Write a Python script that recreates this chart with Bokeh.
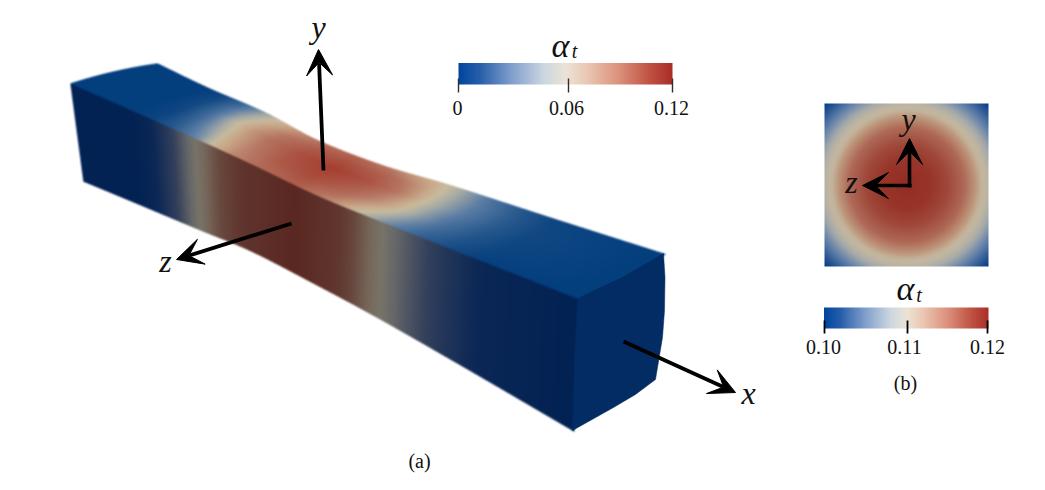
import numpy as np
from bokeh.plotting import figure
from bokeh.models import Range1d, Arrow, VeeHead
from bokeh.core.properties import value
from bokeh.embed import file_html
from bokeh.resources import INLINE

# colour bar scale of alpha_t (normalised position, r, g, b)
cmap_pos = [0, .1, .25, .4, .5, .6, .75, .9, 1]
cmap_r = [0, 40, 130, 205, 235, 235, 220, 190, 170]
cmap_g = [70, 95, 160, 215, 228, 200, 145, 80, 45]
cmap_b = [160, 170, 205, 225, 215, 180, 125, 65, 40]

# the same scale as it looks on the lit surfaces
surf_pos = [0, .25, .4, .5, .6, .75, 1]
top_r = [3, 90, 165, 200, 200, 182, 165]
top_g = [62, 125, 170, 187, 165, 118, 62]
top_b = [125, 165, 165, 158, 135, 98, 48]
side_r = [2, 55, 100, 120, 118, 104, 90]
side_g = [34, 66, 102, 116, 102, 72, 40]
side_b = [84, 92, 104, 104, 90, 62, 34]
sect_r = [5, 100, 165, 195, 192, 178, 148]
sect_g = [60, 130, 170, 183, 160, 113, 45]
sect_b = [135, 170, 170, 160, 132, 93, 35]

# beam edges at 8 stations along its length
front_x = [70, 127, 193, 250, 317, 383, 480, 577]
front_y = [83, 108, 137, 163, 195, 222, 260, 298]
rear_x = [157, 207, 265, 318, 383, 451, 556, 663]
rear_y = [63, 87, 112, 140, 165, 185, 219, 253]
bottom_x = [83, 136, 198, 251, 315, 380, 476, 572]
bottom_y = [181, 203, 229, 251, 284, 319, 374, 430]
top_bulge = [-2, 0, 0, 0, 0, 0, 1, 4]

# alpha_t (normalised) read along the beam, keyed by position on the front edge
side_at = [70, 127, 150, 170, 193, 215, 240, 295, 340, 375, 400, 440, 480, 577]
side_alpha = [0, 0, .04, .22, .48, .72, .9, 1, .88, .55, .38, .18, .04, 0]
top_at = [70, 127, 150, 170, 185, 195, 210, 230, 260, 293, 330, 355, 370, 385, 400, 420, 450, 480, 577]
top_t = [0, .3, .6, .8, 1]
top_alpha = [
    [0, 0, .02, .10, .20, .28, .50, .68, .80, .85, .68, .50, .40, .30, .22, .13, .05, .01, 0],
    [0, 0, .03, .15, .30, .40, .58, .72, .88, .94, .82, .68, .58, .45, .33, .20, .09, .03, 0],
    [0, 0, .05, .20, .38, .50, .64, .78, .92, 1.0, .90, .77, .66, .50, .38, .25, .12, .04, 0],
    [0, 0, .05, .20, .35, .45, .60, .75, .88, .92, .85, .72, .62, .50, .38, .25, .12, .04, 0],
    [0, 0, .04, .15, .28, .38, .50, .65, .78, .82, .72, .60, .55, .47, .36, .22, .10, .03, 0],
]

# right end face outline
end_x = [577, 600, 622, 663, 664.5, 664, 662, 655, 635, 613, 572, 574]
end_y = [298, 287, 277, 253, 277, 310, 337, 379, 394, 407, 430, 360]
end_color = "#032c64"

# cross-section radial profile of panel (b)
radial_r = [0, .3, .5, .7, .85, .91, 1.0, 1.1, 1.2, 1.3, 1.41]
radial_a = [1, .97, .9, .78, .62, .52, .47, .36, .24, .12, 0]

# colour bars
bar_a_labels = ["0", "0.06", "0.12"]
bar_a_ticks = [458, 568, 672]
bar_a_label_x = [457, 566, 671]
bar_b_labels = ["0.10", "0.11", "0.12"]
bar_b_ticks = [824, 907, 987]
bar_b_label_x = [823, 904, 987]

# axis arrows: x0, y0, x1, y1
arrows_main = [(323, 170, 318, 49), (291, 223, 176, 259), (623, 341, 735, 392)]
arrows_b = [(909, 187, 909, 138), (911, 185, 862, 185)]
axis_labels = [("y", 318, 26), ("z", 165, 260), ("x", 748, 392), ("y", 908, 118), ("z", 851, 181)]


def colour(a, r, g, b, pos=cmap_pos):
    a = np.asarray(a)
    return np.interp(a, pos, r), np.interp(a, pos, g), np.interp(a, pos, b)


def catmull(pts, s):
    pts = np.asarray(pts, float)
    q = np.concatenate([[2 * pts[0] - pts[1]], pts, [2 * pts[-1] - pts[-2]]])
    i = np.clip(np.floor(s).astype(int), 0, len(pts) - 2)
    u = s - i
    a, b, c, d = q[i], q[i + 1], q[i + 2], q[i + 3]
    return 0.5 * (2 * b + (c - a) * u + (2 * a - 5 * b + 4 * c - d) * u ** 2 + (3 * b - a - 3 * c + d) * u ** 3)


def soften(v, n=121):
    k = np.hanning(n)
    k /= k.sum()
    return np.convolve(np.pad(v, n // 2, mode="edge"), k, mode="valid")


def to_rgba(r, g, b, a=None):
    h, w = r.shape
    im = np.zeros((h, w), dtype=np.uint32)
    v = im.view(dtype=np.uint8).reshape((h, w, 4))
    v[..., 0], v[..., 1], v[..., 2] = np.clip(r, 0, 255), np.clip(g, 0, 255), np.clip(b, 0, 255)
    v[..., 3] = 255 if a is None else np.clip(a * 255, 0, 255)
    return im


p = figure(width=1029, height=474, x_range=Range1d(0, 1029), y_range=Range1d(474, 0),
           x_axis_type=None, y_axis_type=None, toolbar_location=None, output_backend="svg",
           min_border=0, outline_line_color=None, background_fill_color="white")
p.grid.visible = False

# beam surface: dense sampling on a supersampled canvas
SS = 3
cx0, cy0, cw, ch = 60, 55, 615, 385
rgbm = np.zeros((ch * SS, cw * SS, 4))
ns, nt = 4500, 700
s = np.linspace(0, 7.02, ns)
Fx, Fy = catmull(front_x, s), catmull(front_y, s)
Rx, Ry = catmull(rear_x, s), catmull(rear_y, s)
Bx, By = catmull(bottom_x, s), catmull(bottom_y, s)
bulge = catmull(top_bulge, s)
tv = np.linspace(0, 1, nt)[:, None]


def splat(X, Y, r, g, b):
    ix = ((X - cx0) * SS).astype(int).ravel()
    iy = ((Y - cy0) * SS).astype(int).ravel()
    ok = (ix >= 0) & (ix < cw * SS) & (iy >= 0) & (iy < ch * SS)
    ix, iy = ix[ok], iy[ok]
    rgbm[iy, ix, 0] = r.ravel()[ok]
    rgbm[iy, ix, 1] = g.ravel()[ok]
    rgbm[iy, ix, 2] = b.ravel()[ok]
    rgbm[iy, ix, 3] = 1


a_side = soften(np.interp(Fx, side_at, side_alpha))
cr, cg, cb = colour(a_side, side_r, side_g, side_b, surf_pos)
one = np.ones((nt, 1))
splat(Fx + (Bx - Fx) * tv, Fy + (By - Fy) * tv, cr * one, cg * one, cb * one)

ta = np.asarray(top_alpha)
A = np.zeros((nt, ns))
for j, t in enumerate(tv[:, 0]):
    col = [np.interp(t, top_t, ta[:, k]) for k in range(ta.shape[1])]
    A[j] = soften(np.interp(Fx, top_at, col))
cr, cg, cb = colour(A, top_r, top_g, top_b, surf_pos)
splat(Fx + (Rx - Fx) * tv,
      Fy + (Ry - Fy) * tv + 4 * tv * (1 - tv) * bulge,
      cr, cg, cb)

# box-filter to screen pixels, premultiplied, with the slight softness of the picture
pm = rgbm.copy()
pm[..., :3] *= pm[..., 3:4]
pm = pm.reshape(ch, SS, cw, SS, 4).mean(axis=(1, 3))
for axis in (0, 1):
    pm = 0.25 * np.roll(pm, 1, axis) + 0.5 * pm + 0.25 * np.roll(pm, -1, axis)
alpha = pm[..., 3]
safe = np.maximum(alpha, 1e-4)
p.image_rgba(image=[to_rgba(pm[..., 0] / safe, pm[..., 1] / safe, pm[..., 2] / safe, alpha)],
             x=cx0, y=cy0, dw=cw, dh=ch)

# end face
p.patch(end_x, end_y, fill_color=end_color, line_color=end_color, line_width=0.5)

# panel (b)
n = 328
gx = np.linspace(-1, 1, n)
r = np.hypot(*np.meshgrid(gx, gx))
a = np.interp(r, radial_r, radial_a)
p.image_rgba(image=[to_rgba(*colour(a, sect_r, sect_g, sect_b, surf_pos))], x=824, y=103, dw=164, dh=163)


def bar(x0, x1, y0, y1):
    a = np.linspace(0, 1, 512)[None, :]
    p.image_rgba(image=[to_rgba(*colour(a, cmap_r, cmap_g, cmap_b))], x=x0, y=y0, dw=x1 - x0, dh=y1 - y0)


bar(458, 672, 62.5, 84)
bar(823.5, 988, 307, 328)
p.segment(bar_a_ticks, [78] * 3, bar_a_ticks, [92] * 3, line_color="#303030", line_width=1.4)
p.segment(bar_b_ticks, [320] * 3, bar_b_ticks, [333] * 3, line_color="#000000", line_width=1.8)

SERIF = value("Liberation Serif")
p.text(bar_a_label_x, [107] * 3, text=bar_a_labels, text_font=SERIF, text_font_size="20px",
       text_align="center", text_baseline="middle", text_color="#111111")
p.text(bar_b_label_x, [346] * 3, text=bar_b_labels, text_font=SERIF, text_font_size="20px",
       text_align="center", text_baseline="middle", text_color="#111111")
p.text([419, 905], [460, 382], text=["(a)", "(b)"], text_font=SERIF, text_font_size="20px",
       text_align="center", text_baseline="middle", text_color="#111111")

# alpha_t titles
p.text([560, 905], [45, 288], text=["α", "α"], text_font=SERIF, text_font_style="italic",
       text_font_size="34px", text_align="center", text_baseline="middle", text_color="#111111")
p.text([574, 918.5], [50, 294], text=["t", "t"], text_font=SERIF, text_font_style="italic",
       text_font_size="20px", text_align="center", text_baseline="middle", text_color="#111111")

# arrows
for x0, y0, x1, y1 in arrows_main:
    p.add_layout(Arrow(end=VeeHead(size=26, fill_color="black", line_color="black", line_width=1),
                       x_start=x0, y_start=y0, x_end=x1, y_end=y1, line_color="black", line_width=3.8))
for x0, y0, x1, y1 in arrows_b:
    p.add_layout(Arrow(end=VeeHead(size=26, fill_color="black", line_color="black", line_width=1),
                       x_start=x0, y_start=y0, x_end=x1, y_end=y1, line_color="black", line_width=3.6))

p.text([l[1] for l in axis_labels], [l[2] for l in axis_labels], text=[l[0] for l in axis_labels],
       text_font=SERIF, text_font_style="italic", text_font_size="32px",
       text_align="center", text_baseline="middle", text_color="#111111")

open("out.html", "w").write(file_html(p, INLINE))
